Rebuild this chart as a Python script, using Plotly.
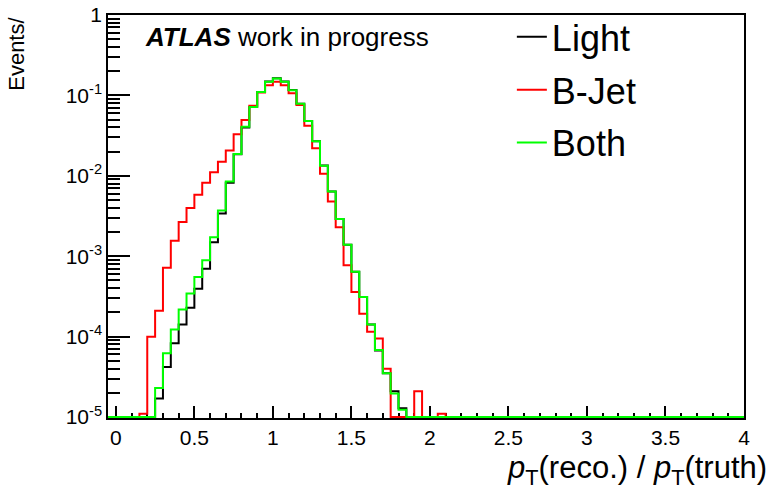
import numpy as np
import plotly.graph_objects as go

# Histogram binning (bin width 0.05, axis from -0.05 to 4.0)
hist_lo = -0.05
hist_hi = 4.0
bin_width = 0.05
# Non-empty region starts at this bin's lower edge
data_start = 0.15

# Normalised event fractions per bin, starting at 0.15 (bin width 0.05)
light = [0, 0, 1.7e-5, 4.2e-5, 8.3e-5, 1.42e-4, 2.29e-4, 3.94e-4, 7.0e-4, 1.49e-3,
         3.4e-3, 8.2e-3, 0.0185, 0.040, 0.072, 0.110, 0.149, 0.163, 0.149, 0.117,
         0.079, 0.048, 0.027, 0.0134, 6.4e-3, 2.9e-3, 1.39e-3, 6.4e-4, 3.1e-4, 1.42e-4,
         6.7e-5, 3.5e-5, 2.1e-5, 1.29e-5, 0, 0, 0, 0, 0, 0]
bjet = [1.1e-5, 1.0e-4, 2.1e-4, 7.2e-4, 1.56e-3, 2.67e-3, 3.98e-3, 5.8e-3, 8.2e-3, 0.0111,
        0.0150, 0.0206, 0.0328, 0.0494, 0.0743, 0.109, 0.134, 0.148, 0.134, 0.106,
        0.076, 0.042, 0.022, 0.0106, 4.8e-3, 2.3e-3, 7.7e-4, 3.6e-4, 1.93e-4, 1.15e-4,
        9.5e-5, 4.0e-5, 0, 0, 0, 2.1e-5, 0, 0, 1.1e-5, 0]
both = [0, 0, 2.3e-5, 6.2e-5, 1.23e-4, 2.18e-4, 3.44e-4, 5.5e-4, 8.9e-4, 1.72e-3,
        3.7e-3, 8.5e-3, 0.0187, 0.0408, 0.072, 0.110, 0.148, 0.162, 0.148, 0.116,
        0.079, 0.048, 0.027, 0.0133, 6.4e-3, 2.9e-3, 1.39e-3, 6.4e-4, 3.1e-4, 1.42e-4,
        6.8e-5, 3.5e-5, 1.96e-5, 1.23e-5, 0, 0, 0, 0, 0, 0]

series_names = ["Light", "B-Jet", "Both"]
series_colors = ["#000000", "#ff0000", "#00ff00"]

y_tick_vals = [1e-5, 1e-4, 1e-3, 1e-2, 1e-1, 1]
y_tick_text = ["10<sup>-5</sup>", "10<sup>-4</sup>", "10<sup>-3</sup>",
               "10<sup>-2</sup>", "10<sup>-1</sup>", "1"]

y_floor = 1e-5
n_bins = int(round((hist_hi - hist_lo) / bin_width))
edges = hist_lo + bin_width * np.arange(n_bins + 1)
start_idx = int(round((data_start - hist_lo) / bin_width))


def full_hist(vals):
    h = np.zeros(n_bins)
    h[start_idx:start_idx + len(vals)] = vals
    return h


def step_xy(h):
    y = np.maximum(h, y_floor)
    xs = np.append(edges[:-1], edges[-1])
    ys = np.append(y, y[-1])
    return xs, ys


fig = go.Figure()
for name, vals, col in zip(series_names, [light, bjet, both], series_colors):
    xs, ys = step_xy(full_hist(vals))
    fig.add_trace(go.Scatter(
        x=xs, y=ys, mode="lines", line=dict(color=col, width=2, shape="hv"),
        name=name, legendgroup=name,
    ))

font_family = "Liberation Sans, Arial, Helvetica, sans-serif"

fig.update_layout(
    width=770, height=500,
    margin=dict(l=108, r=26, t=15, b=82, autoexpand=False),
    paper_bgcolor="white", plot_bgcolor="white",
    font=dict(family=font_family, color="black", size=20),
    showlegend=True,
    legend=dict(
        x=0.635, y=1.02, xanchor="left", yanchor="top",
        bgcolor="rgba(0,0,0,0)", font=dict(size=36, family=font_family),
        tracegroupgap=3, traceorder="grouped",
    ),
    xaxis=dict(
        range=[hist_lo, hist_hi], showgrid=False, zeroline=False,
        showline=True, linecolor="black", linewidth=1.5, mirror=True,
        ticks="inside", ticklen=12, tickcolor="black", tickwidth=1.5,
        tick0=0, dtick=0.5, layer="below traces",
        minor=dict(ticks="inside", ticklen=5, dtick=0.1, tickcolor="black", tickwidth=1.5, showgrid=False),
        tickfont=dict(size=21),
    ),
    yaxis=dict(
        type="log", range=[-5.012, 0], showgrid=False, zeroline=False,
        showline=True, linecolor="black", linewidth=1.5, mirror=True,
        ticks="inside", ticklen=22, tickcolor="black", tickwidth=1.5,
        tickvals=y_tick_vals, ticktext=y_tick_text, layer="below traces",
        minor=dict(ticks="inside", ticklen=12, dtick="D1", tickcolor="black", tickwidth=1.5, showgrid=False),
        tickfont=dict(size=21),
    ),
)

fig.add_annotation(
    xref="paper", yref="paper", x=0.055, y=0.945, xanchor="left", yanchor="middle",
    text="<b><i>ATLAS</i></b> work in progress", showarrow=False,
    font=dict(size=26, family=font_family, color="black"),
)
fig.add_annotation(
    xref="paper", yref="paper", x=1.04, y=-0.13, xanchor="right", yanchor="middle",
    text="<i>p</i><sub>T</sub>(reco.) / <i>p</i><sub>T</sub>(truth)", showarrow=False,
    font=dict(size=31, family=font_family, color="black"),
)
fig.add_annotation(
    xref="paper", yref="paper", x=-0.145, y=1.0, xanchor="center", yanchor="top",
    text="Events/", textangle=-90, showarrow=False,
    font=dict(size=22, family=font_family, color="black"),
)

fig.write_html("out.html")
